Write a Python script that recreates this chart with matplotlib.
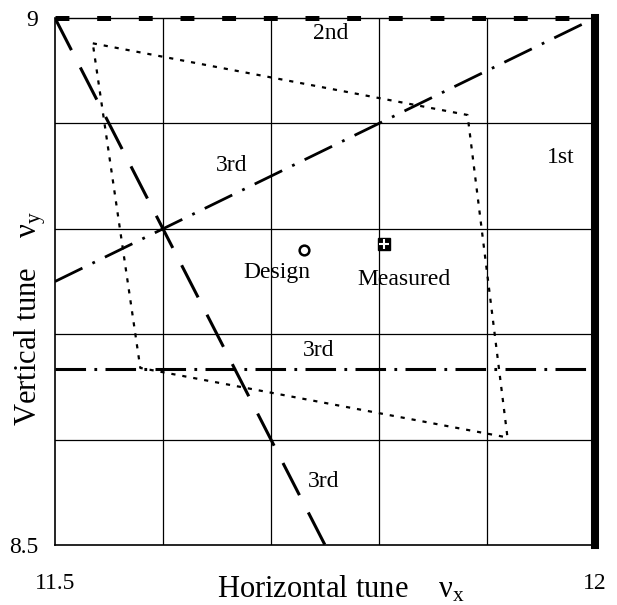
import numpy as np
import matplotlib
matplotlib.use('Agg')
import matplotlib.pyplot as plt

plt.rcParams['font.family'] = ['Liberation Serif', 'DejaVu Serif']
plt.rcParams['lines.scale_dashes'] = False

# tune window
nux_range = [11.5, 12.0]
nuy_range = [8.5, 9.0]

# working points
design = (11.7306, 8.780)
measured = (11.8046, 8.7856)

# dotted boundary of the tune footprint (corners)
footprint_x = [11.535, 11.882, 11.919, 11.579, 11.535]
footprint_y = [8.976, 8.908, 8.602, 8.668, 8.976]

# resonance labels: text, nu_x, nu_y
res_labels = [('2nd', 11.755, 8.985), ('3rd', 11.664, 8.860), ('1st', 11.968, 8.868),
              ('3rd', 11.744, 8.685), ('3rd', 11.749, 8.560)]

# point labels: text, nu_x, nu_y
point_labels = [('Design', 11.7056, 8.759), ('Measured', 11.823, 8.752)]

fig = plt.figure(figsize=(6.17, 6.05), dpi=100)
ax = fig.add_axes([0.0891, 0.0992, 0.8752, 0.871])
ax.set_xlim(nux_range)
ax.set_ylim(nuy_range)

# grid every 0.1
for gx in np.arange(11.6, 11.95, 0.1):
    ax.axvline(gx, color='black', lw=0.9, zorder=1)
for gy in np.arange(8.6, 8.95, 0.1):
    ax.axhline(gy, color='black', lw=0.9, zorder=1)

xx = np.linspace(11.5, 12.0, 200)

# 2nd order: 2 nu_y = 18
ax.plot(nux_range, [9.0, 9.0], color='black', lw=3.6, ls=(0, (10, 20)), zorder=3, clip_on=False)
# 1st order: nu_x = 12
ax.plot([12.0, 12.0], nuy_range, color='black', lw=5.8, zorder=3, clip_on=False)
# 3rd order: 3 nu_y = 26
ax.plot(nux_range, [26 / 3, 26 / 3], color='black', lw=2.2, ls=(0, (22, 6, 2, 6)), zorder=3)
# 3rd order: nu_x - 2 nu_y = -6
ax.plot(xx, (xx + 6) / 2, color='black', lw=2.0, ls=(0, (22, 8, 2, 8)), zorder=3)
# 3rd order: 2 nu_x + nu_y = 32
ax.plot(xx, 32 - 2 * xx, color='black', lw=2.2, ls=(0, (26, 14)), zorder=3)

# footprint
ax.plot(footprint_x, footprint_y, color='black', lw=1.6, ls=(0, (3, 5)), zorder=3)

# working points
ax.plot(*design, marker='o', ms=7, mfc='white', mec='black', mew=1.8, zorder=4)
ax.plot(*measured, marker='s', ms=8, mfc='black', mec='black', zorder=4)
ax.plot(*measured, marker='+', ms=7, mec='white', mew=1.5, zorder=5)

for txt, lx, ly in point_labels + res_labels:
    ax.text(lx, ly, txt, fontsize=17, ha='center', va='center')

for s in ['top', 'right']:
    ax.spines[s].set_visible(False)
for s in ['left', 'bottom']:
    ax.spines[s].set_linewidth(1.2)
ax.plot(nux_range, [9.0, 9.0], color='black', lw=1.0, zorder=2, clip_on=False)

ax.set_xticks(nux_range)
ax.set_xticklabels(['11.5', '12'])
ax.set_yticks(nuy_range)
ax.set_yticklabels(['8.5', '9'])
ax.tick_params(length=0, labelsize=17)
ax.tick_params(axis='x', pad=20)
ax.tick_params(axis='y', pad=12)

ax.set_xlabel(r'Horizontal tune    $\mathregular{\nu_x}$', fontsize=22)
ax.set_ylabel(r'Vertical tune    $\mathregular{\nu_y}$', fontsize=22)
ax.xaxis.set_label_coords(0.53, -0.055)
ax.yaxis.set_label_coords(-0.012, 0.43)

fig.savefig('out.png', dpi=100)
